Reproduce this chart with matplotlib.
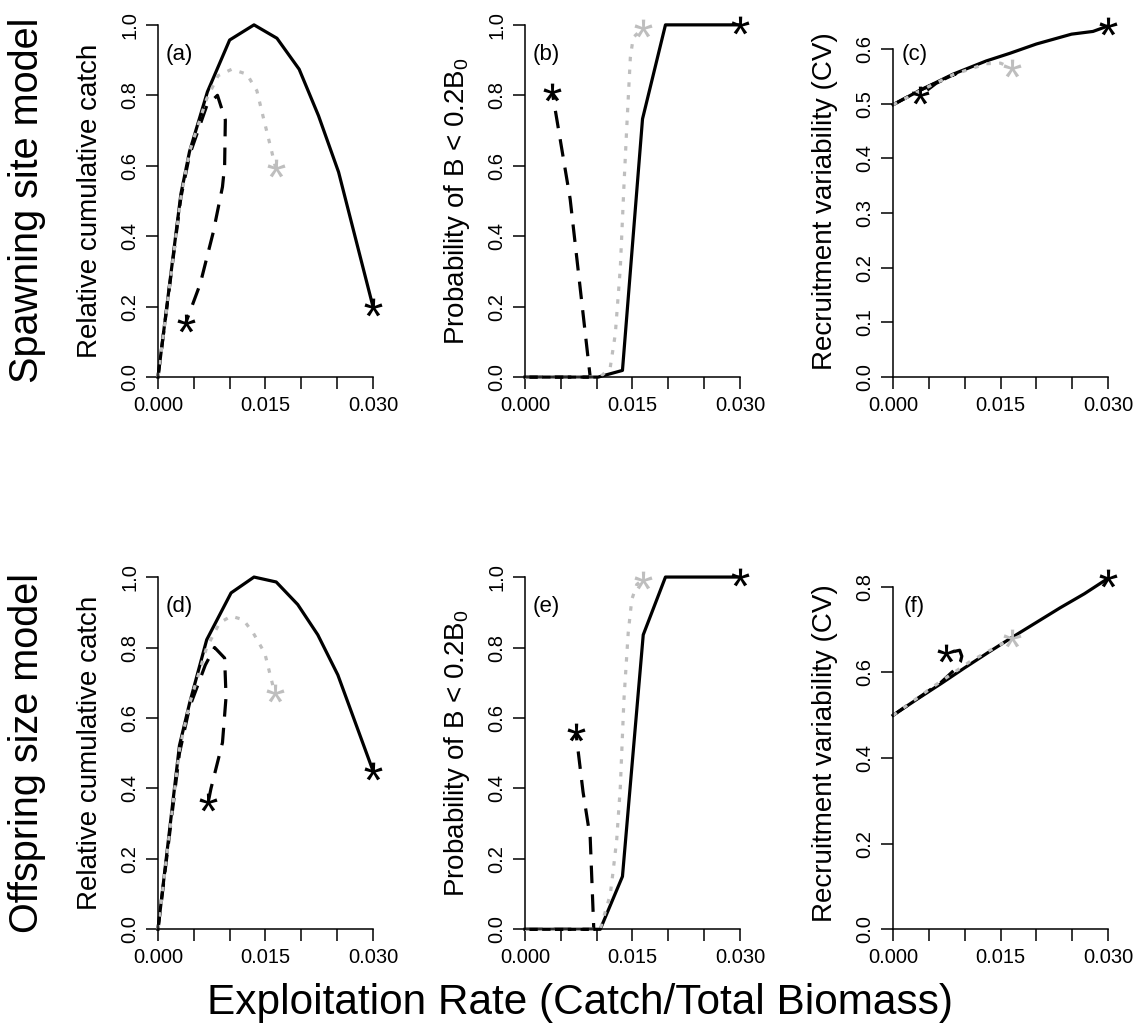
import matplotlib
matplotlib.use('Agg')
import matplotlib.pyplot as plt
import numpy as np
from matplotlib.textpath import TextPath
from matplotlib.font_manager import FontProperties
from matplotlib.path import Path

plt.rcParams['font.family'] = ['Liberation Sans', 'DejaVu Sans']
plt.rcParams['mathtext.fontset'] = 'custom'
plt.rcParams['mathtext.rm'] = 'Liberation Sans'

GREY = '#BEBEBE'

# ---- panel (a) spawning site: relative cumulative catch
a_x_solid = [0, 0.0032, 0.0044, 0.0069, 0.0100, 0.0134, 0.0166, 0.0197, 0.0224, 0.0252, 0.0300]
a_y_solid = [0, 0.52, 0.64, 0.81, 0.957, 1.0, 0.962, 0.874, 0.742, 0.582, 0.20]
a_x_dash = [0, 0.0032, 0.0044, 0.0068, 0.0083, 0.0094, 0.0093, 0.0090, 0.0077, 0.0059, 0.0039]
a_y_dash = [0, 0.51, 0.63, 0.77, 0.80, 0.73, 0.60, 0.54, 0.41, 0.265, 0.155]
a_x_dot = [0, 0.0032, 0.0044, 0.0068, 0.0084, 0.0103, 0.0124, 0.0138, 0.0147, 0.0159, 0.0164]
a_y_dot = [0, 0.51, 0.64, 0.79, 0.856, 0.874, 0.86, 0.813, 0.737, 0.638, 0.595]

# ---- panel (b) spawning site: probability of B < 0.2B0
b_x_solid = [0, 0.0033, 0.0067, 0.0102, 0.0136, 0.0164, 0.0196, 0.0300]
b_y_solid = [0, 0, 0, 0, 0.019, 0.733, 1.0, 1.0]
b_x_dash = [0, 0.0033, 0.0067, 0.0091, 0.0063, 0.0038]
b_y_dash = [0, 0, 0, 0, 0.506, 0.81]
b_x_dot = [0, 0.0033, 0.0067, 0.0105, 0.0119, 0.0126, 0.0133, 0.0138, 0.0142, 0.0147, 0.0151, 0.0164]
b_y_dot = [0, 0, 0, 0, 0.028, 0.122, 0.31, 0.54, 0.709, 0.907, 0.964, 0.99]

# ---- panel (c) spawning site: recruitment CV
c_x_solid = [0, 0.0037, 0.0084, 0.0130, 0.0163, 0.0200, 0.0249, 0.0279, 0.0300]
c_y_solid = [0.498, 0.524, 0.554, 0.578, 0.592, 0.609, 0.627, 0.632, 0.642]
c_x_dash = [0, 0.0037, 0.0088, 0.0060, 0.0038]
c_y_dash = [0.498, 0.524, 0.555, 0.537, 0.515]
c_x_dot = [0, 0.0037, 0.0084, 0.0130, 0.0150, 0.0166]
c_y_dot = [0.498, 0.523, 0.553, 0.573, 0.574, 0.565]

# ---- panel (d) offspring size: relative cumulative catch
d_x_solid = [0, 0.0030, 0.0044, 0.0068, 0.0102, 0.0134, 0.0165, 0.0195, 0.0223, 0.0251, 0.0300]
d_y_solid = [0, 0.522, 0.641, 0.822, 0.955, 1.0, 0.986, 0.922, 0.836, 0.722, 0.45]
d_x_dash = [0, 0.0030, 0.0044, 0.0066, 0.0079, 0.0093, 0.0095, 0.0090, 0.0074, 0.0070]
d_y_dash = [0, 0.50, 0.63, 0.75, 0.80, 0.77, 0.66, 0.53, 0.40, 0.36]
d_x_dot = [0, 0.0030, 0.0044, 0.0068, 0.0086, 0.0102, 0.0119, 0.0133, 0.0149, 0.0156, 0.0163]
d_y_dot = [0, 0.51, 0.64, 0.80, 0.87, 0.889, 0.879, 0.841, 0.784, 0.727, 0.67]

# ---- panel (e) offspring size: probability of B < 0.2B0
e_x_solid = [0, 0.0033, 0.0067, 0.0105, 0.0136, 0.0165, 0.0196, 0.0300]
e_y_solid = [0, 0, 0, 0, 0.15, 0.836, 1.0, 1.0]
e_x_dash = [0, 0.0033, 0.0067, 0.0096, 0.0091, 0.0081, 0.0071]
e_y_dash = [0, 0, 0, 0, 0.26, 0.39, 0.56]
e_x_dot = [0, 0.0033, 0.0067, 0.0105, 0.0119, 0.0123, 0.0128, 0.0133, 0.0138, 0.0144, 0.0149, 0.0156, 0.0165]
e_y_dot = [0, 0, 0, 0, 0.099, 0.165, 0.255, 0.403, 0.65, 0.841, 0.936, 0.979, 0.993]

# ---- panel (f) offspring size: recruitment CV
f_x_solid = [0, 0.0033, 0.0067, 0.0100, 0.0133, 0.0167, 0.0200, 0.0233, 0.0267, 0.0300]
f_y_solid = [0.5, 0.537, 0.574, 0.611, 0.647, 0.683, 0.717, 0.751, 0.784, 0.82]
f_x_dash = [0, 0.0033, 0.0067, 0.0085, 0.0094, 0.0096, 0.0093, 0.0074]
f_y_dash = [0.5, 0.538, 0.577, 0.605, 0.625, 0.638, 0.652, 0.645]
f_x_dot = [0, 0.0056, 0.0107, 0.0144, 0.0166]
f_y_dot = [0.5, 0.567, 0.625, 0.66, 0.68]

panels = [
    ('(a)', a_x_solid, a_y_solid, a_x_dash, a_y_dash, a_x_dot, a_y_dot),
    ('(b)', b_x_solid, b_y_solid, b_x_dash, b_y_dash, b_x_dot, b_y_dot),
    ('(c)', c_x_solid, c_y_solid, c_x_dash, c_y_dash, c_x_dot, c_y_dot),
    ('(d)', d_x_solid, d_y_solid, d_x_dash, d_y_dash, d_x_dot, d_y_dot),
    ('(e)', e_x_solid, e_y_solid, e_x_dash, e_y_dash, e_x_dot, e_y_dot),
    ('(f)', f_x_solid, f_y_solid, f_x_dash, f_y_dash, f_x_dot, f_y_dot),
]
ylabels = ['Relative cumulative catch', r'Probability of B < 0.2B$_\mathregular{0}$',
           'Recruitment variability (CV)'] * 2
ytops = [1.0, 1.0, 0.644, 1.0, 1.0, 0.823]
yticks = [np.arange(0, 1.01, 0.2), np.arange(0, 1.01, 0.2), np.arange(0, 0.61, 0.1),
          np.arange(0, 1.01, 0.2), np.arange(0, 1.01, 0.2), np.arange(0, 0.81, 0.2)]
xticks = [0, 0.005, 0.010, 0.015, 0.020, 0.025, 0.030]
xticklabels = ['0.000', '', '', '0.015', '', '', '0.030']

# asterisk marker built from the font glyph, centred on the point
tp = TextPath((0, 0), '*', prop=FontProperties(family='Liberation Sans'), size=1)
polys = tp.to_polygons()
allv = np.vstack(polys)
ctr = (allv.min(axis=0) + allv.max(axis=0)) / 2
star = Path.make_compound_path(*[Path(p - ctr, closed=True) for p in polys])

fig = plt.figure(figsize=(11.48, 10.36), dpi=100)
lefts = [0.1376, 0.4573, 0.7779]
bottoms = [0.636, 0.103]
W, H = 0.1873, 0.340

lw = 2.3
for i, (tag, xs, ys, xd, yd, xg, yg) in enumerate(panels):
    ax = fig.add_axes([lefts[i % 3], bottoms[i // 3], W, H])
    ax.plot(xs, ys, color='black', lw=lw, clip_on=False, solid_joinstyle='round')
    ax.plot(xd, yd, color='black', lw=lw, linestyle=(0, (5.5, 3.5)), clip_on=False)
    ax.plot(xg, yg, color=GREY, lw=lw, linestyle=(0, (1.4, 2.6)), clip_on=False)
    for xx, yy, cc in [(xs, ys, 'black'), (xd, yd, 'black'), (xg, yg, GREY)]:
        ax.plot(xx[-1], yy[-1], marker=star, markersize=13, color=cc,
                markeredgewidth=0, clip_on=False, zorder=5)
    ax.set_xlim(0, 0.03)
    ax.set_ylim(0, ytops[i])
    ax.spines['top'].set_visible(False)
    ax.spines['right'].set_visible(False)
    ax.spines['left'].set_bounds(0, yticks[i][-1])
    for s in ['left', 'bottom']:
        ax.spines[s].set_linewidth(1.1)
    ax.set_xticks(xticks)
    ax.set_xticklabels(xticklabels)
    ax.set_yticks(yticks[i])
    ax.set_yticklabels(['%.1f' % v for v in yticks[i]], rotation=90, va='center')
    ax.tick_params(direction='out', length=8.5, width=1.1, labelsize=14.5, pad=5)
    ax.text(-0.316, 0.5, ylabels[i], transform=ax.transAxes, rotation=90,
            ha='center', va='center', fontsize=20)
    ax.text(0.003, 0.915 * ytops[i], tag, ha='center', va='center', fontsize=16)

fig.text(0.0235, 0.807, 'Spawning site model', rotation=90, ha='center', va='center', fontsize=28.5)
fig.text(0.0235, 0.273, 'Offspring size model', rotation=90, ha='center', va='center', fontsize=28.5)
fig.text(0.505, 0.032, 'Exploitation Rate (Catch/Total Biomass)', ha='center', va='center', fontsize=30.5)

fig.savefig('out.png', dpi=100)
